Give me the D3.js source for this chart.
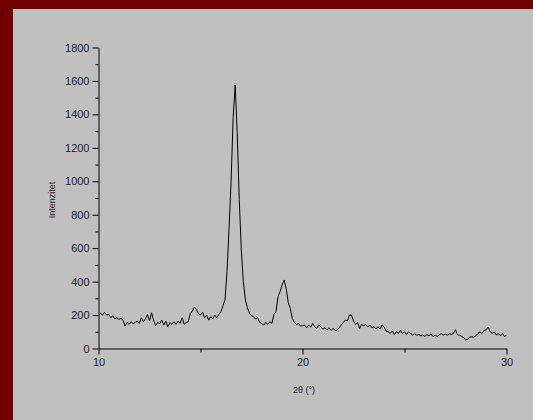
<!DOCTYPE html>
<html>
<head>
<meta charset="utf-8">
<title>XRD</title>
<script src="https://d3js.org/d3.v7.min.js"></script>
<style>
  body { margin: 0; background: #700000; }
  .domain, .tick line { stroke: #000; }
</style>
</head>
<body>
<script>

// 2-theta angles (deg), scan grid
var angles = [
 10.0,10.1,10.2,10.3,10.4,10.5,10.6,10.7,10.8,10.9,
 11.0,11.1,11.2,11.3,11.4,11.5,11.6,11.7,11.8,11.9,
 12.0,12.1,12.2,12.3,12.4,12.5,12.6,12.7,12.8,12.9,
 13.0,13.1,13.2,13.3,13.4,13.5,13.6,13.7,13.8,13.9,
 14.0,14.1,14.2,14.3,14.4,14.5,14.6,14.7,14.8,14.9,
 15.0,15.1,15.2,15.3,15.4,15.5,15.6,15.7,15.8,15.9,
 16.0,16.1,16.2,16.3,16.4,16.5,16.6,16.7,16.8,16.9,
 17.0,17.1,17.2,17.3,17.4,17.5,17.6,17.7,17.8,17.9,
 18.0,18.1,18.2,18.3,18.4,18.5,18.6,18.7,18.8,18.9,
 19.0,19.1,19.2,19.3,19.4,19.5,19.6,19.7,19.8,19.9,
 20.0,20.1,20.2,20.3,20.4,20.5,20.6,20.7,20.8,20.9,
 21.0,21.1,21.2,21.3,21.4,21.5,21.6,21.7,21.8,21.9,
 22.0,22.1,22.2,22.3,22.4,22.5,22.6,22.7,22.8,22.9,
 23.0,23.1,23.2,23.3,23.4,23.5,23.6,23.7,23.8,23.9,
 24.0,24.1,24.2,24.3,24.4,24.5,24.6,24.7,24.8,24.9,
 25.0,25.1,25.2,25.3,25.4,25.5,25.6,25.7,25.8,25.9,
 26.0,26.1,26.2,26.3,26.4,26.5,26.6,26.7,26.8,26.9,
 27.0,27.1,27.2,27.3,27.4,27.5,27.6,27.7,27.8,27.9,
 28.0,28.1,28.2,28.3,28.4,28.5,28.6,28.7,28.8,28.9,
 29.0,29.1,29.2,29.3,29.4,29.5,29.6,29.7,29.8,29.9,
 30.0
];

// intensity
var intensity = [
 196,210,200,216,200,204,184,196,176,184,
 174,180,170,134,156,144,160,148,156,164,
 150,184,160,176,204,164,214,170,136,156,
 148,170,140,164,130,156,144,160,144,164,
 150,184,144,156,160,210,224,248,232,210,
 200,216,184,200,170,190,176,200,184,204,
 220,256,290,460,720,1000,1380,1575,1290,890,
 590,400,290,244,210,196,190,176,184,156,
 150,140,156,144,160,150,204,220,310,340,
 380,410,360,276,240,180,156,144,148,136,
 136,140,124,140,128,150,130,120,140,130,
 116,124,110,124,108,120,108,110,124,140,
 156,170,164,200,200,164,144,156,120,144,
 136,144,130,140,124,130,116,130,116,140,
 130,104,100,90,104,84,100,90,108,90,
 100,84,100,90,80,88,80,84,76,80,
 72,84,76,88,70,80,72,80,88,80,
 86,80,88,84,90,112,80,80,72,64,
 52,56,68,70,68,76,90,100,90,108,
 112,128,100,90,100,80,90,76,90,72,
 80
];

var yTicks = [0, 200, 400, 600, 800, 1000, 1200, 1400, 1600, 1800];
var xTicks = [10, 20, 30];

var FONT = "'Liberation Sans', Arial, sans-serif";
var W = 533, H = 420;
var svg = d3.select("body").append("svg")
    .attr("width", W)
    .attr("height", H);

// grey panel
svg.append("rect")
    .attr("x", 13).attr("y", 9)
    .attr("width", W - 13).attr("height", H - 9)
    .attr("fill", "#c0c0c0");

var x = d3.scaleLinear().domain([10, 30]).range([98.5, 506.5]);
var y = d3.scaleLinear().domain([0, 1800]).range([348.5, 47.5]);

// minor ticks first, majors on top
svg.append("g")
    .attr("transform", "translate(" + x(10) + ",0)")
    .call(d3.axisLeft(y).tickValues(d3.range(100, 1800, 200)).tickSize(3).tickFormat(""))
    .call(function(g) { g.select(".domain").remove(); });
svg.append("g")
    .attr("transform", "translate(0," + y(0) + ")")
    .call(d3.axisBottom(x).tickValues([15, 25]).tickSize(4).tickFormat(""))
    .call(function(g) { g.select(".domain").remove(); });

var yAxis = svg.append("g")
    .attr("transform", "translate(" + x(10) + ",0)")
    .call(d3.axisLeft(y).tickValues(yTicks).tickFormat(d3.format("d"))
        .tickSize(6).tickSizeOuter(0).tickPadding(3));

var xAxis = svg.append("g")
    .attr("transform", "translate(0," + y(0) + ")")
    .call(d3.axisBottom(x).tickValues(xTicks).tickFormat(d3.format("d"))
        .tickSize(6).tickSizeOuter(0).tickPadding(4));

svg.selectAll(".tick text")
    .style("font-family", FONT)
    .style("font-size", "11px")
    .attr("fill", "#222");

var pts = angles.map(function(a, i) { return [a, intensity[i]]; });

svg.append("path")
    .datum(pts)
    .attr("fill", "none")
    .attr("stroke", "#000")
    .attr("stroke-width", 1)
    .attr("stroke-linejoin", "round")
    .attr("d", d3.line()
        .x(function(d) { return x(d[0]); })
        .y(function(d) { return y(d[1]); }));

// axis titles
svg.append("text")
    .attr("transform", "translate(55,200) rotate(-90)")
    .attr("text-anchor", "middle")
    .style("font-family", FONT)
    .style("font-size", "9px")
    .attr("fill", "#222")
    .text("Intenzitet");

svg.append("text")
    .attr("x", 304).attr("y", 393)
    .attr("text-anchor", "middle")
    .style("font-family", FONT)
    .style("font-size", "9px")
    .attr("fill", "#222")
    .text("2θ (°)");

</script>
</body>
</html>
